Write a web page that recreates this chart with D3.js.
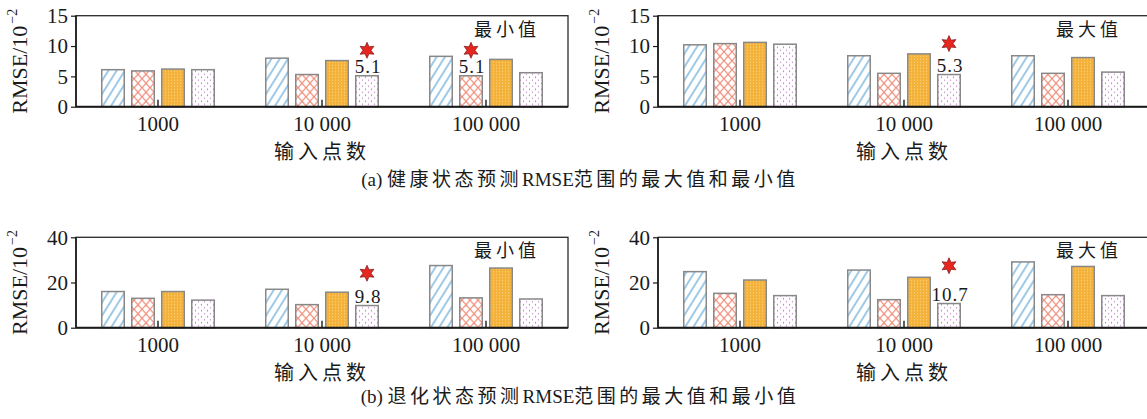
<!DOCTYPE html>
<html><head><meta charset="utf-8">
<script src="https://cdn.jsdelivr.net/npm/d3@7"></script>
<style>
html,body{margin:0;padding:0;background:#fff;}
svg{display:block;}
</style></head><body>
<svg id="chart" width="1147" height="419"></svg>
<script>
// Input point counts (x categories) and the four compared methods
const categories = ["1000", "10 000", "100 000"];
const seriesKeys = ["s1", "s2", "s3", "s4"];

// RMSE (×10^-2): one row per input point count, one value per method
const healthMin  = [[6.1, 5.9, 6.2, 6.1], [8.0, 5.3, 7.6, 5.1], [8.3, 5.1, 7.8, 5.6]];
const healthMax  = [[10.2, 10.4, 10.6, 10.3], [8.4, 5.5, 8.7, 5.3], [8.4, 5.5, 8.1, 5.7]];
const degradeMin = [[16.0, 13.0, 16.0, 12.2], [17.0, 10.2, 15.7, 9.8], [27.5, 13.2, 26.4, 12.7]];
const degradeMax = [[24.8, 15.2, 21.1, 14.2], [25.5, 12.4, 22.3, 10.7], [29.1, 14.6, 27.1, 14.2]];

const healthTicks  = [0, 5, 10, 15];
const degradeTicks = [0, 20, 40];

// Best results, marked with a star and value: [category index, method index]
const healthMinBest  = [[1, 3], [2, 1]];
const healthMaxBest  = [[1, 3]];
const degradeMinBest = [[1, 3]];
const degradeMaxBest = [[1, 3]];

// Height (in RMSE units) at which the star markers sit in each panel
const starLevels = [9.3, 10.4, 24.1, 27.4];

const panelTags = ["最小值", "最大值", "最小值", "最大值"];
const captions = ["(a) 健康状态预测RMSE范围的最大值和最小值", "(b) 退化状态预测RMSE范围的最大值和最小值"];
const xTitle = "输入点数";

const SERIF = "'Liberation Serif','Times New Roman',serif";
const CJK = "'Liberation Serif','Noto Sans CJK SC',serif";

const svg = d3.select("#chart");
const defs = svg.append("defs");

// ---- fill patterns ----
const hatch = defs.append("pattern").attr("id", "p1")
  .attr("patternUnits", "userSpaceOnUse").attr("width", 7).attr("height", 7)
  .attr("patternTransform", "rotate(32)");
hatch.append("rect").attr("width", 7).attr("height", 7).attr("fill", "#fff");
hatch.append("line").attr("x1", 1).attr("y1", 0).attr("x2", 1).attr("y2", 7)
  .attr("stroke", "#5ea6d8").attr("stroke-width", 1.2);

const cross = defs.append("pattern").attr("id", "p2")
  .attr("patternUnits", "userSpaceOnUse").attr("width", 8).attr("height", 9);
cross.append("rect").attr("width", 8).attr("height", 9).attr("fill", "#fff");
cross.append("path").attr("d", "M0,0L8,9M8,0L0,9M-1,8L1,10M7,-1L9,1M7,10L9,8M-1,1L1,-1")
  .attr("stroke", "#f0806a").attr("stroke-width", 1.1).attr("fill", "none");

const dense = defs.append("pattern").attr("id", "p3")
  .attr("patternUnits", "userSpaceOnUse").attr("width", 3).attr("height", 3);
dense.append("rect").attr("width", 3).attr("height", 3).attr("fill", "#f4b23a");
dense.append("rect").attr("x", 1).attr("y", 1).attr("width", 1).attr("height", 1).attr("fill", "#fbd88c");

const dots = defs.append("pattern").attr("id", "p4")
  .attr("patternUnits", "userSpaceOnUse").attr("width", 6).attr("height", 6);
dots.append("rect").attr("width", 6).attr("height", 6).attr("fill", "#fff");
dots.append("circle").attr("cx", 1.5).attr("cy", 1.5).attr("r", 0.65).attr("fill", "#b45cb8");
dots.append("circle").attr("cx", 4.5).attr("cy", 4.5).attr("r", 0.65).attr("fill", "#c27fc8");

const fills = ["url(#p1)", "url(#p2)", "url(#p3)", "url(#p4)"];

// six-pointed star marker
function starPath(R, r) {
  const pts = [];
  for (let i = 0; i < 12; i++) {
    const a = -Math.PI / 2 + i * Math.PI / 6;
    const rad = i % 2 === 0 ? R : r;
    pts.push([rad * Math.cos(a), rad * Math.sin(a)]);
  }
  return "M" + pts.map(p => p[0].toFixed(2) + "," + p[1].toFixed(2)).join("L") + "Z";
}

const PW = 492;
const panels = [
  { data: healthMin,  ticks: healthTicks,  best: healthMinBest,  left: 76,  top: 15.7,  h: 91 },
  { data: healthMax,  ticks: healthTicks,  best: healthMaxBest,  left: 658, top: 15.7,  h: 91 },
  { data: degradeMin, ticks: degradeTicks, best: degradeMinBest, left: 76,  top: 237.3, h: 90.4 },
  { data: degradeMax, ticks: degradeTicks, best: degradeMaxBest, left: 658, top: 237.3, h: 90.4 }
];

panels.forEach((p, pi) => {
  const g = svg.append("g").attr("transform", `translate(${p.left},${p.top})`);
  const x = d3.scaleBand().domain(categories).range([0, PW]).padding(0);
  const xs = d3.scaleBand().domain(seriesKeys).range([-57, 57]).paddingInner(0.2).paddingOuter(0);
  const y = d3.scaleLinear().domain([0, d3.max(p.ticks)]).range([p.h, 0]);

  // bars
  const groups = g.selectAll("g.grp").data(categories).join("g")
    .attr("class", "grp")
    .attr("transform", d => `translate(${x(d) + x.bandwidth() / 2},0)`);
  groups.selectAll("rect").data((d, ci) => p.data[ci].map((v, si) => ({ v, si }))).join("rect")
    .attr("x", d => xs(seriesKeys[d.si]) + 0.75)
    .attr("width", xs.bandwidth() - 1.5)
    .attr("y", d => y(d.v))
    .attr("height", d => p.h - y(d.v))
    .attr("fill", d => fills[d.si])
    .attr("stroke", "#888")
    .attr("stroke-width", 1.5);

  // frame
  g.append("rect").attr("x", 0).attr("y", 0).attr("width", PW).attr("height", p.h)
    .attr("fill", "none").attr("stroke", "#2a2a2a").attr("stroke-width", 1.3);
  g.append("line").attr("x1", 0).attr("x2", PW).attr("y1", p.h).attr("y2", p.h)
    .attr("stroke", "#1a1a1a").attr("stroke-width", 2);
  g.append("line").attr("x1", 0).attr("x2", 0).attr("y1", 0).attr("y2", p.h)
    .attr("stroke", "#1a1a1a").attr("stroke-width", 1.6);

  // y axis
  const ya = g.append("g").call(d3.axisLeft(y).tickValues(p.ticks).tickSize(5).tickPadding(3));
  ya.select(".domain").remove();
  ya.selectAll(".tick line").attr("stroke", "#1a1a1a").attr("stroke-width", 1.2);
  ya.selectAll(".tick text").attr("font-family", SERIF).attr("font-size", 21).attr("fill", "#1a1a1a");

  // x axis: short inward ticks at group centres, labels below
  const xa = g.append("g").attr("transform", `translate(0,${p.h})`)
    .call(d3.axisBottom(x).tickSize(-7).tickPadding(14));
  xa.select(".domain").remove();
  xa.selectAll(".tick line").attr("stroke", "#1a1a1a").attr("stroke-width", 1.4);
  xa.selectAll(".tick text").attr("font-family", SERIF).attr("font-size", 21).attr("fill", "#1a1a1a")
    .attr("y", 24).attr("dy", 0);

  // x title
  g.append("text").attr("x", PW / 2).attr("y", p.h + 52)
    .attr("text-anchor", "middle").attr("font-family", CJK).attr("font-size", 20)
    .attr("letter-spacing", 4).attr("fill", "#1a1a1a").text(xTitle);

  // y title
  const yt = g.append("text")
    .attr("transform", `translate(-49,${p.h / 2}) rotate(-90)`)
    .attr("text-anchor", "middle").attr("font-family", SERIF).attr("font-size", 22).attr("fill", "#1a1a1a");
  yt.append("tspan").text("RMSE/10");
  yt.append("tspan").attr("font-size", 14).attr("dy", -10).attr("dx", 2).text("−2");

  // panel tag
  g.append("text").attr("x", PW - 28).attr("y", 20)
    .attr("text-anchor", "end").attr("font-family", CJK).attr("font-size", 18)
    .attr("letter-spacing", 4).attr("fill", "#1a1a1a").text(panelTags[pi]);

  // best values: label plus star
  p.best.forEach(([ci, si]) => {
    const v = p.data[ci][si];
    const cx = x(categories[ci]) + x.bandwidth() / 2 + xs(seriesKeys[si]) + xs.bandwidth() / 2;
    g.append("text").attr("x", cx + 1).attr("y", y(v) - 3)
      .attr("text-anchor", "middle").attr("font-family", SERIF).attr("font-size", 19)
      .attr("letter-spacing", 1).attr("fill", "#1a1a1a").text(v.toFixed(1));
    g.append("path").attr("d", starPath(8, 4))
      .attr("transform", `translate(${cx},${y(starLevels[pi])})`)
      .attr("fill", "#e6261f").attr("stroke", "#7a1414").attr("stroke-width", 0.7);
  });
});

// captions: Latin runs set tight, Chinese runs spaced out
function caption(str, yPos) {
  const t = svg.append("text").attr("x", 580).attr("y", yPos).attr("text-anchor", "middle")
    .attr("font-family", CJK).attr("font-size", 19).attr("fill", "#1a1a1a");
  const runs = str.match(/[\u4e00-\u9fff]+|[^\u4e00-\u9fff]+/g);
  runs.forEach(r => {
    const cjk = /[\u4e00-\u9fff]/.test(r);
    t.append("tspan").attr("letter-spacing", cjk ? 3.5 : 0).text(r);
  });
}
caption(captions[0], 186);
caption(captions[1], 403);
</script>
</body></html>
